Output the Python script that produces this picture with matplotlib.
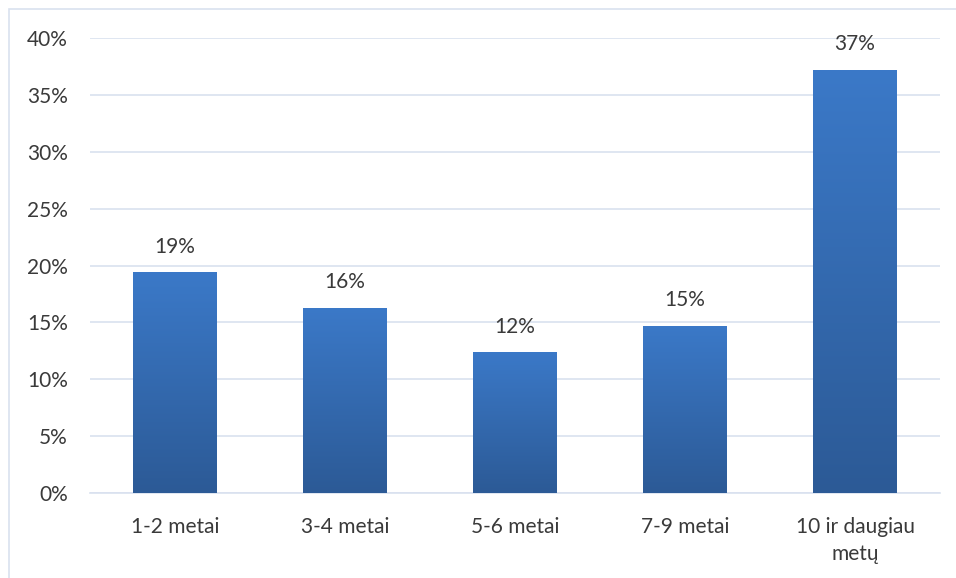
import matplotlib.pyplot as plt
import numpy as np
from matplotlib.colors import LinearSegmentedColormap
from matplotlib.patches import Rectangle

categories = ["1-2 metai", "3-4 metai", "5-6 metai", "7-9 metai", "10 ir daugiau\nmetų"]
shares = [19.4, 16.3, 12.4, 14.7, 37.2]
yticks = [0, 5, 10, 15, 20, 25, 30, 35, 40]

plt.rcParams['font.family'] = ['Lato', 'DejaVu Sans']

fig = plt.figure(figsize=(9.56, 5.78), dpi=100)
ax = fig.add_axes([90 / 956, 85 / 578, 850 / 956, 455 / 578])

x = np.arange(len(categories))
bars = ax.bar(x, shares, width=0.494, color="none", zorder=3)

# vertical gradient fill clipped to each bar
grad = LinearSegmentedColormap.from_list("bluegrad", ["#2c5a96", "#3b79c8"])
for b in bars:
    x0, w, h = b.get_x(), b.get_width(), b.get_height()
    img = ax.imshow(np.linspace(0, 1, 256).reshape(-1, 1), cmap=grad,
                    extent=[x0, x0 + w, 0, h], origin="lower",
                    aspect="auto", zorder=3)
    img.set_clip_path(b)

for xi, v in zip(x, shares):
    ax.text(xi, v + 1.35, f"{round(v)}%", ha="center", va="bottom",
            fontsize=15, color="#3a3a3a", zorder=4)

ax.set_xlim(-0.5, len(categories) - 0.5)
ax.set_ylim(0, 40)
ax.set_yticks(yticks)
ax.set_yticklabels([f"{t}%" for t in yticks])
ax.set_xticks(x)
ax.set_xticklabels(categories, linespacing=1.45)
ax.tick_params(axis="both", length=0, labelsize=15, labelcolor="#3a3a3a")
ax.tick_params(axis="y", pad=16)
ax.tick_params(axis="x", pad=17)
ax.grid(axis="y", color="#d9e1ef", linewidth=1.2, zorder=0)
for side in ["top", "right", "left"]:
    ax.spines[side].set_visible(False)
ax.spines["bottom"].set_color("#d9e1ef")
ax.spines["bottom"].set_linewidth(1.2)
ax.set_axisbelow(True)

# chart frame
fig.patches.append(Rectangle((9 / 956, -0.05), 1.2, (578 - 9) / 578 + 0.05,
                             transform=fig.transFigure, fill=False,
                             edgecolor="#d9e1ef", linewidth=1.2))

fig.savefig("out.png", dpi=100)
